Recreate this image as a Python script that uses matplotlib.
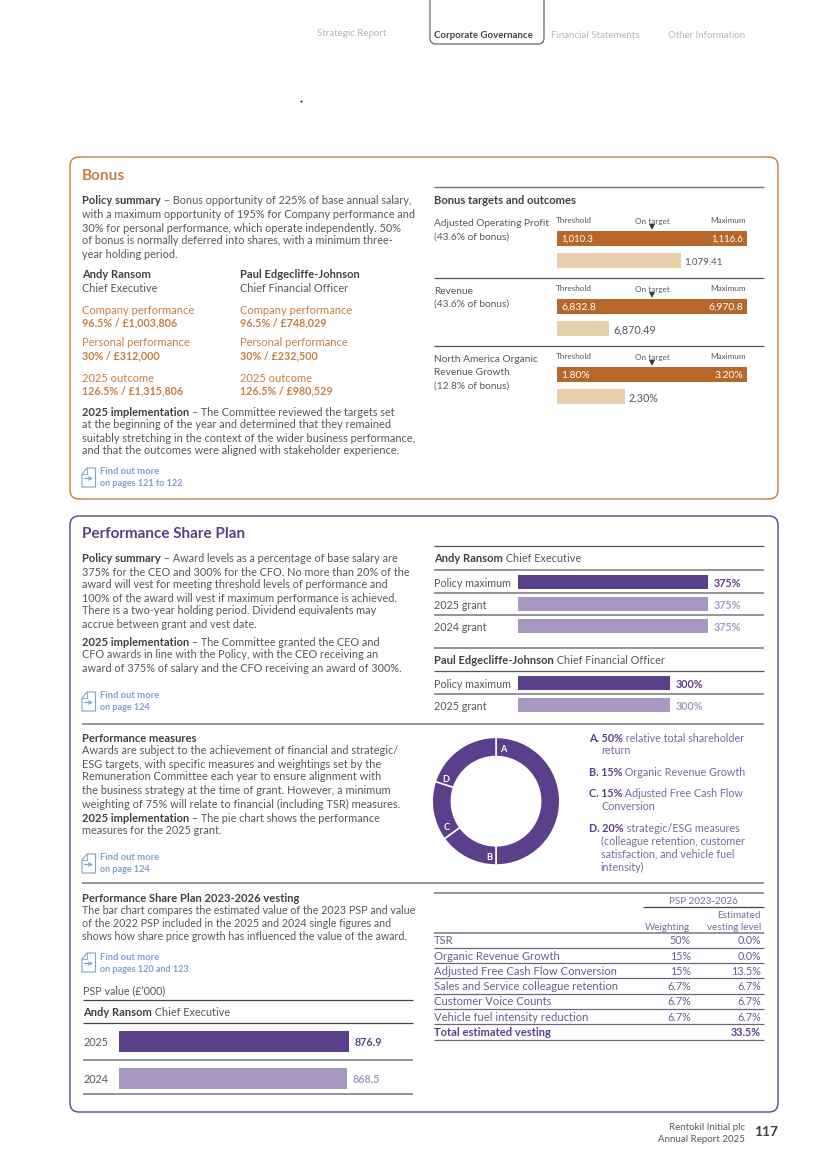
import matplotlib
matplotlib.use("Agg")
import matplotlib.pyplot as plt
from matplotlib.patches import FancyBboxPatch, Polygon

W, H = 825, 1168
FONT = "Lato"
FS = 7.85
NB = 7.75
GREY = "#55575c"
DARK = "#3f4146"
ORANGE = "#b8672a"
ORTXT = "#c47f42"
TAN = "#e8cfac"
PURPLE = "#5c3f8a"
LILAC = "#a897c0"
BLUE = "#7f9fd0"
RULE = "#77787c"
LGC = "#7a6a9e"

bonus_measures = ["Adjusted Operating Profit", "Revenue", "North America Organic"]
bonus_threshold = [1010.3, 6832.8, 1.80]
bonus_maximum = [1116.6, 6970.8, 3.20]
bonus_outcome = [1079.41, 6870.49, 2.30]
bonus_thr_labels = ["1,010.3", "6,832.8", "1.80%"]
bonus_max_labels = ["1,116.6", "6,970.8", "3.20%"]
bonus_out_labels = ["1,079.41", "6,870.49", "2.30%"]

ceo_labels = ["Policy maximum", "2025 grant", "2024 grant"]
ceo_values = [375, 375, 375]
cfo_labels = ["Policy maximum", "2025 grant"]
cfo_values = [300, 300]

measure_names = ["A", "B", "C", "D"]
measure_shares = [50, 15, 15, 20]

psp_years = ["2025", "2024"]
psp_values = [876.9, 868.5]

table_rows = ["TSR", "Organic Revenue Growth", "Adjusted Free Cash Flow Conversion",
              "Sales and Service colleague retention", "Customer Voice Counts",
              "Vehicle fuel intensity reduction", "Total estimated vesting"]
table_weight = ["50%", "15%", "15%", "6.7%", "6.7%", "6.7%", ""]
table_vesting = ["0.0%", "0.0%", "13.5%", "6.7%", "6.7%", "6.7%", "33.5%"]

fig = plt.figure(figsize=(W / 100, H / 100), dpi=100, facecolor="white")
ov = fig.add_axes([0, 0, 1, 1], zorder=10)
ov.set_xlim(0, W)
ov.set_ylim(H, 0)
ov.axis("off")
ov.patch.set_alpha(0)
rend = fig.canvas.get_renderer()


def eff(b, fs):
    return 8.05 if (b and fs == FS) else fs


def T(x, y, s, c=GREY, b=False, fs=FS, ha="left"):
    return ov.text(x, y, s, color=c, fontweight="bold" if b else "normal", fontsize=eff(b, fs),
                   ha=ha, va="center_baseline", family=FONT)


def width(s, b, fs):
    w_ = "bold" if b else "normal"
    t = ov.text(0, 0, s + ".", fontweight=w_, fontsize=eff(b, fs), family=FONT)
    d = ov.text(0, 0, ".", fontweight=w_, fontsize=eff(b, fs), family=FONT)
    w = t.get_window_extent(rend).width - d.get_window_extent(rend).width
    t.remove()
    d.remove()
    return w


def R(x, y, runs, fs=FS):
    for s, c, b in runs:
        T(x, y, s, c, b, fs)
        x += width(s, b, fs)


def rule(x0, x1, y, c=RULE, lw=1.0):
    ov.plot([x0, x1], [y, y], color=c, lw=lw, solid_capstyle="butt")


def lines(x, ys, ss, c=GREY, b=False, fs=FS):
    for y, s in zip(ys, ss):
        T(x, y, s, c, b, fs)


def card(x0, y0, x1, y1, c):
    ov.add_patch(FancyBboxPatch((x0 + 9, y0 + 9), x1 - x0 - 18, y1 - y0 - 18,
                                boxstyle="round,pad=9,rounding_size=9", fc="none", ec=c, lw=1.0))


def find(y, l2):
    pts = [(87, y), (95.5, y), (95.5, y + 19), (82, y + 19), (82, y + 6)]
    ov.add_patch(Polygon(pts, closed=True, fc="none", ec=BLUE, lw=0.8))
    ov.plot([82, 87, 87], [y + 6, y + 6, y], color=BLUE, lw=0.6)
    ov.annotate("", xy=(93, y + 10.5), xytext=(84.5, y + 10.5),
                arrowprops=dict(arrowstyle="->", color=BLUE, lw=0.8, mutation_scale=6,
                                shrinkA=0, shrinkB=0))
    T(100, y + 3, "Find out more", BLUE, True, 6.75)
    T(100, y + 15, l2, BLUE, True, 6.5)


def bar_axes(x0, y0, x1, y1, xlim):
    a = fig.add_axes([x0 / W, 1 - y1 / H, (x1 - x0) / W, (y1 - y0) / H])
    a.set_xlim(*xlim)
    a.set_ylim(-0.5, 0.5)
    a.axis("off")
    return a


# ---------- header ----------
T(317, 33, "Strategic Report", "#b5b6b9", False, 7.05)
T(434, 34, "Corporate Governance", DARK, True, 6.95)
T(551, 34, "Financial Statements", "#b5b6b9", False, 7.05)
T(668, 34, "Other Information", "#b5b6b9", False, 6.95)
ov.add_patch(FancyBboxPatch((436, -20), 102, 58, boxstyle="round,pad=6,rounding_size=6",
                            fc="none", ec="#666", lw=0.9))
ov.plot([300.5], [101], marker="s", ms=0.5, color="#333")

# ---------- bonus card ----------
card(70, 157, 778, 499, ORTXT)
T(82, 175, "Bonus", ORTXT, True, 11.1)
R(82, 200, [("Policy summary", DARK, True), (" – Bonus opportunity of 225% of base annual salary,", GREY, False)])
lines(82, [214, 227, 240, 253], [
    "with a maximum opportunity of 195% for Company performance and",
    "30% for personal performance, which operate independently. 50%",
    "of bonus is normally deferred into shares, with a minimum three-",
    "year holding period."])
for x, name, role, cp, pp, out in [
    (82, "Andy Ransom", "Chief Executive", "96.5% / £1,003,806", "30% / £312,000", "126.5% / £1,315,806"),
    (240, "Paul Edgecliffe-Johnson", "Chief Financial Officer", "96.5% / £748,029", "30% / £232,500", "126.5% / £980,529")]:
    T(x, 273, name, DARK, True)
    T(x, 287, role, fs=7.8)
    T(x, 309, "Company performance", ORTXT, fs=8.0)
    T(x, 322, cp, ORTXT, True, NB)
    T(x, 342, "Personal performance", ORTXT, fs=8.0)
    T(x, 355, pp, ORTXT, True, NB)
    T(x, 377, "2025 outcome", ORTXT, fs=8.0)
    T(x, 390, out, ORTXT, True, NB)
R(82, 411, [("2025 implementation", DARK, True), (" – The Committee reviewed the targets set", GREY, False)], )
lines(82, [424, 437, 450], [
    "at the beginning of the year and determined that they remained",
    "suitably stretching in the context of the wider business performance,",
    "and that the outcomes were aligned with stakeholder experience."], fs=7.95)
find(468, "on pages 121 to 122")

rule(434, 764, 187)
T(434, 199.5, "Bonus targets and outcomes", DARK, True, 8.1)
rule(434, 764, 277.5, "#555", 0.9)
rule(434, 764, 345.5, "#555", 0.9)
label_sets = [(["Adjusted Operating Profit", "(43.6% of bonus)"], [223, 236]),
              (["Revenue", "(43.6% of bonus)"], [291, 303.5]),
              (["North America Organic", "Revenue Growth", "(12.8% of bonus)"], [358.5, 371.5, 385])]
tops = [231, 299, 367]
out_tops = [253, 321, 389]
thr_fs = [6.9, 7.5, 7.5]
max_fs = [6.8, 7.5, 7.5]
out_fs = [7.0, 7.75, 7.75]
for i, top in enumerate(tops):
    lines(434, label_sets[i][1], label_sets[i][0], GREY, False, 7.3)
    T(556, top - 11, "Threshold", GREY, False, 5.9)
    T(652, top - 10, "On target", GREY, False, 5.9, ha="center")
    T(746, top - 11, "Maximum", GREY, False, 5.9, ha="right")
    ov.plot([652], [top - 4.5], marker="v", ms=4.2, color="#3a3a3a", mew=0)
    lim = (bonus_threshold[i], bonus_maximum[i])
    a = bar_axes(557, top, 747, top + 15, lim)
    a.barh(0, bonus_maximum[i] - bonus_threshold[i], left=bonus_threshold[i], height=1, color=ORANGE)
    T(561, top + 7.5, bonus_thr_labels[i], "white", False, thr_fs[i])
    T(743, top + 7.5, bonus_max_labels[i], "white", False, max_fs[i], ha="right")
    a = bar_axes(557, out_tops[i], 747, out_tops[i] + 15, lim)
    a.barh(0, bonus_outcome[i] - bonus_threshold[i], left=bonus_threshold[i], height=1, color=TAN)
    xend = 557 + 190 * (bonus_outcome[i] - lim[0]) / (lim[1] - lim[0])
    T(xend + 4, out_tops[i] + 8, bonus_out_labels[i], GREY, False, out_fs[i])

# ---------- PSP card ----------
card(70, 516, 778, 1112, PURPLE)
T(82, 533, "Performance Share Plan", PURPLE, True, 11.0)
R(82, 558, [("Policy summary", DARK, True), (" – Award levels as a percentage of base salary are", GREY, False)])
lines(82, [571, 584, 597, 610, 623], [
    "375% for the CEO and 300% for the CFO. No more than 20% of the",
    "award will vest for meeting threshold levels of performance and",
    "100% of the award will vest if maximum performance is achieved.",
    "There is a two-year holding period. Dividend equivalents may",
    "accrue between grant and vest date."])
R(82, 641, [("2025 implementation", DARK, True), (" – The Committee granted the CEO and", GREY, False)])
lines(82, [654, 667], ["CFO awards in line with the Policy, with the CEO receiving an",
                       "award of 375% of salary and the CFO receiving an award of 300%."])
find(692, "on page 124")

rule(434, 764, 546, "#555", 0.9)
R(434, 558, [("Andy Ransom", DARK, True), (" Chief Executive", GREY, False)])
rule(434, 764, 570, RULE, 1.1)
rule(434, 764, 593, RULE, 1.1)
rule(434, 764, 615, RULE, 1.1)
rule(434, 764, 647.5, RULE, 1.1)
R(434, 659, [("Paul Edgecliffe-Johnson", DARK, True), (" Chief Financial Officer", GREY, False)])
rule(434, 764, 671, "#555", 0.9)
rule(434, 764, 694, RULE, 1.1)


def grant_rows(labels, vals, tops_):
    for i, (lab, v, top) in enumerate(zip(labels, vals, tops_)):
        a = bar_axes(518, top, 708, top + 14, (0, 375))
        c = PURPLE if i == 0 else LILAC
        a.barh(0, v, height=1, color=c)
        T(434, top + 7.5, lab, fs=NB)
        T(518 + 190 * v / 375 + 6, top + 7.5, f"{v}%", c, True, NB)


grant_rows(ceo_labels, ceo_values, [575, 597, 619])
grant_rows(cfo_labels, cfo_values, [676, 698])

rule(82, 764, 724, RULE, 1.1)
T(82, 737, "Performance measures", DARK, True)
lines(82, [750, 763, 776, 790, 803], [
    "Awards are subject to the achievement of financial and strategic/",
    "ESG targets, with specific measures and weightings set by the",
    "Remuneration Committee each year to ensure alignment with",
    "the business strategy at the time of grant. However, a minimum",
    "weighting of 75% will relate to financial (including TSR) measures."], fs=7.95)
R(82, 817, [("2025 implementation", DARK, True), (" – The pie chart shows the performance", GREY, False)])
T(82, 830, "measures for the 2025 grant.")
find(854, "on page 124")

r = 63.8
cx, cy = 496, 801.2
pa = fig.add_axes([(cx - r) / W, 1 - (cy + r) / H, 2 * r / W, 2 * r / H])
pa.pie(measure_shares, startangle=90, counterclock=False, radius=1, colors=[PURPLE] * 4,
       wedgeprops=dict(width=0.30, edgecolor="white", linewidth=1.1))
pa.set_xlim(-1, 1)
pa.set_ylim(-1, 1)
for n, (x, y) in zip(measure_names, [(503.5, 748), (489, 857), (447, 827), (446, 778)]):
    T(x, y, n, "white", True, 6.6, ha="center")

R(589, 737, [("A. 50%", PURPLE, True), (" relative total shareholder", LGC, False)], NB)
T(601, 750, "return", LGC, fs=NB)
R(589, 771.5, [("B. 15%", PURPLE, True), (" Organic Revenue Growth", LGC, False)], NB)
R(589, 792.5, [("C. 15%", PURPLE, True), (" Adjusted Free Cash Flow", LGC, False)], NB)
T(601, 805.5, "Conversion", LGC, fs=NB)
R(589, 827, [("D. 20%", PURPLE, True), (" strategic/ESG measures", LGC, False)], NB)
lines(601, [840, 853, 866], ["(colleague retention, customer", "satisfaction, and vehicle fuel", "intensity)"], LGC, fs=NB)

rule(82, 764, 883, RULE, 1.1)
T(82, 897, "Performance Share Plan 2023-2026 vesting", DARK, True)
lines(82, [909.5, 922.5, 936], [
    "The bar chart compares the estimated value of the 2023 PSP and value",
    "of the 2022 PSP included in the 2025 and 2024 single figures and",
    "shows how share price growth has influenced the value of the award."], fs=7.63)
find(953, "on pages 120 and 123")
T(83, 989.5, "PSP value (£’000)", fs=NB)
rule(83, 413, 999.5, "#444", 0.9)
R(83, 1011.5, [("Andy Ransom", DARK, True), (" Chief Executive", GREY, False)])
rule(83, 413, 1023, "#444", 0.9)
rule(83, 413, 1060, RULE, 1.1)
rule(83, 413, 1094, RULE, 1.1)
for i, (yr, v, top) in enumerate(zip(psp_years, psp_values, [1031, 1068])):
    c = PURPLE if i == 0 else LILAC
    a = bar_axes(119, top, 349, top + 21, (0, psp_values[0]))
    a.barh(0, v, height=1, color=c)
    T(83, top + 10.5, yr, fs=NB)
    T(119 + 230 * v / psp_values[0] + 5.5, top + 10.5, f"{v}", c, True, NB)

# ---------- table ----------
rule(434, 764, 893, RULE, 1.1)
TP = "#6d5c94"
T(703, 900, "PSP 2023-2026", LGC, False, 7.1, ha="center")
rule(643, 764, 907, "#444", 0.9)
T(761, 915, "Estimated", LGC, False, 7.1, ha="right")
T(761, 926, "vesting level", LGC, False, 7.1, ha="right")
T(690, 926, "Weighting", LGC, False, 7.1, ha="right")
rule(434, 764, 933, RULE, 1.1)
row_y = [939.5, 955.5, 970.5, 985.5, 1000.5, 1016.5, 1031.5]
rule_y = [948, 963, 978, 994, 1009, 1024, 1039.5]
for i, (n, w, v) in enumerate(zip(table_rows, table_weight, table_vesting)):
    bold = i == len(table_rows) - 1
    c = PURPLE if bold else TP
    T(434, row_y[i], n, c, bold, 8.0 if bold else 8.15)
    T(691, row_y[i], w, c, bold, NB, ha="right")
    T(761, row_y[i], v, c, bold, NB, ha="right")
    rule(434, 764, rule_y[i], "#6a6878", 0.9)

# ---------- footer ----------
T(745, 1127, "Rentokil Initial plc", GREY, False, 7.0, ha="right")
T(745, 1139, "Annual Report 2025", GREY, False, 7.0, ha="right")
T(778, 1131, "117", DARK, True, 10.0, ha="right")

fig.savefig("out.png", dpi=100, facecolor="white")
